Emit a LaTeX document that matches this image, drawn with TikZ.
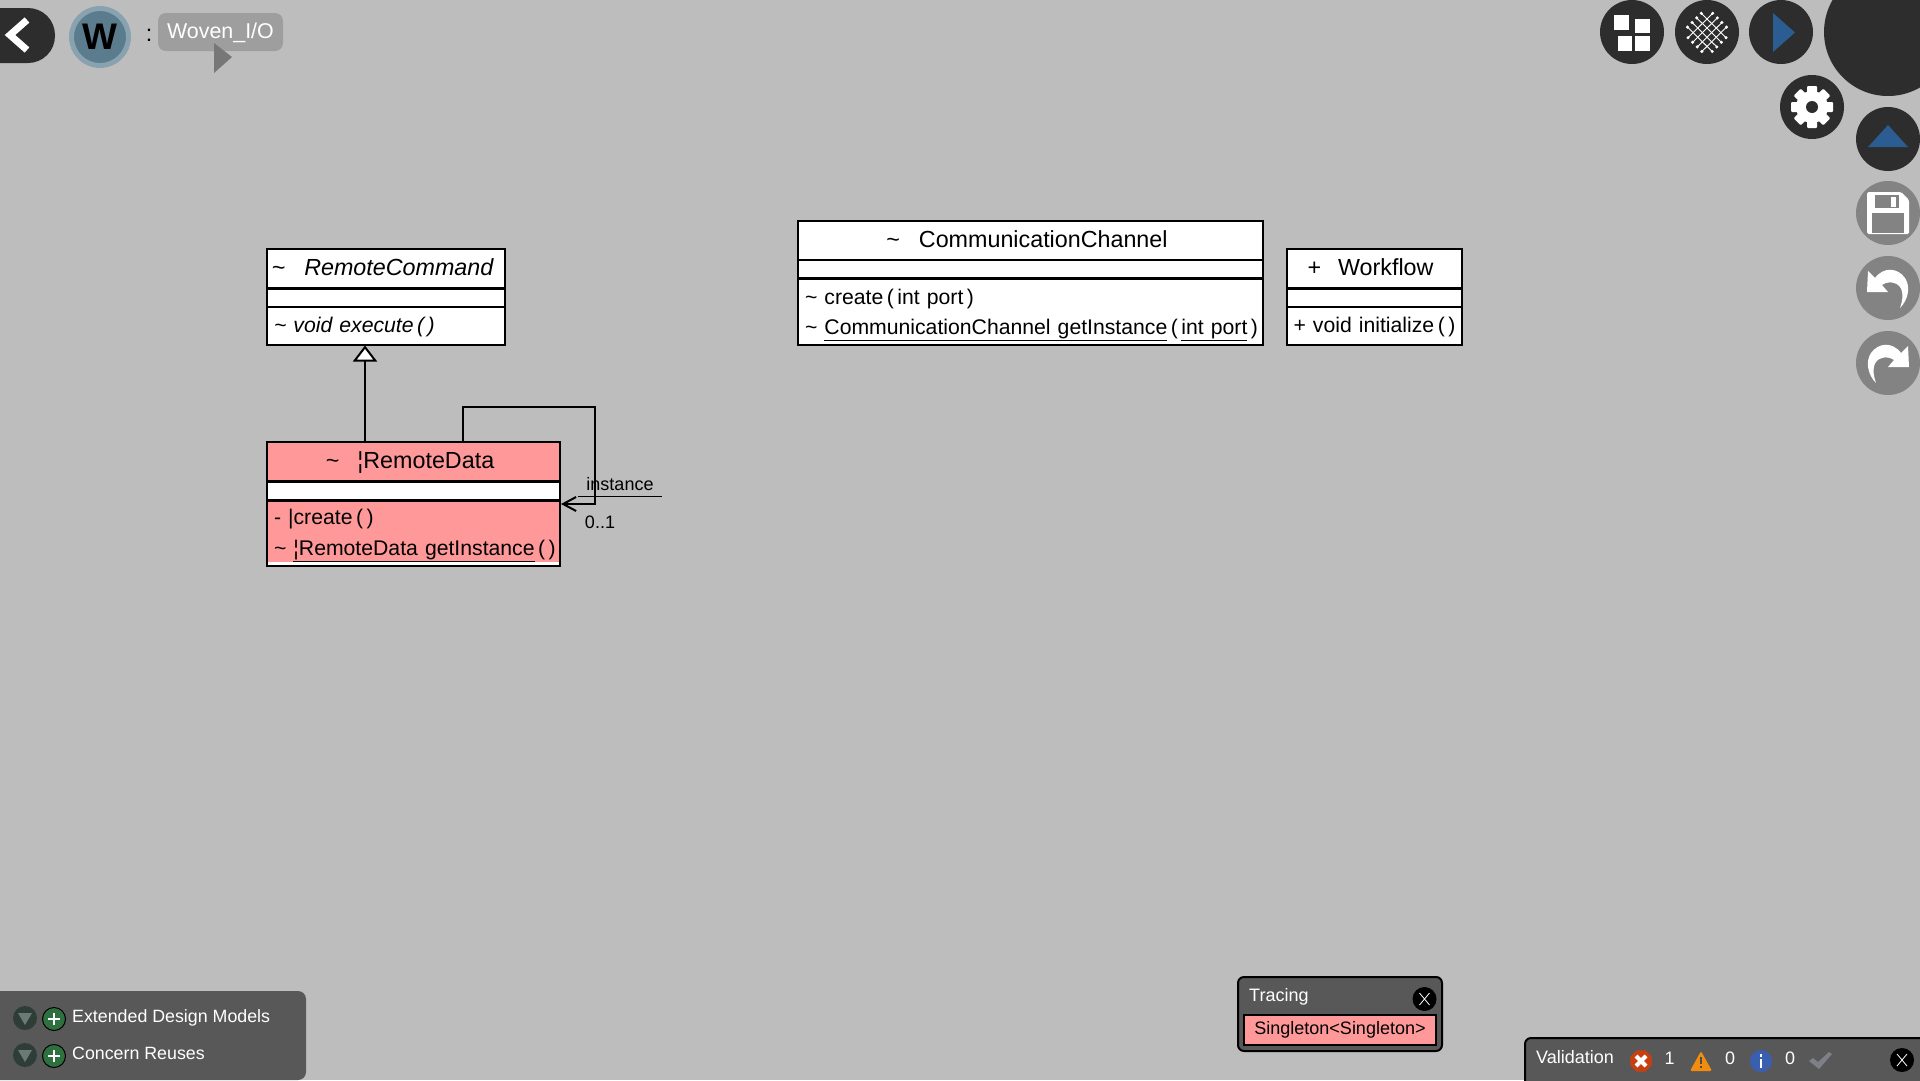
\documentclass[tikz,border=0pt]{standalone}
\usepackage{fontspec}
\setmainfont{Liberation Sans}
\usetikzlibrary{arrows.meta,calc}

\definecolor{canvas_gray}{HTML}{BDBDBD}
\definecolor{btn_dark}{HTML}{2D2D2D}
\definecolor{btn_gray}{HTML}{838383}
\definecolor{panel_gray}{HTML}{585858}
\definecolor{tag_gray}{HTML}{9E9E9E}
\definecolor{tag_arrow}{HTML}{777777}
\definecolor{woven_ring}{HTML}{88A2B0}
\definecolor{woven_fill}{HTML}{5A7C8D}
\definecolor{btn_blue}{HTML}{2B5C92}
\definecolor{trace_pink}{HTML}{FF9999}
\definecolor{plus_green}{HTML}{2F7040}
\definecolor{fold_dark}{HTML}{2E3D38}
\definecolor{fold_tri}{HTML}{6A7A74}
\definecolor{err_red}{HTML}{C8400F}
\definecolor{warn_orange}{HTML}{F28C0F}
\definecolor{info_blue}{HTML}{3A5FB0}
\definecolor{check_gray}{HTML}{7E8088}

\newcommand{\titlefont}{\fontsize{23.3}{28}\selectfont}
\newcommand{\opfont}{\fontsize{21.2}{30.5}\selectfont}
\newcommand{\smallfont}{\fontsize{18}{22}\selectfont}
\newcommand{\tld}{\textasciitilde}
\newcommand{\opstrut}[1]{\rule{0pt}{#1}}
\newcommand{\pgap}{\hspace{3.5pt}}
\newcommand{\turnarrow}{\fill[white] (-20,-17) -- (-21,4) -- (0,4) -- (-6,-3) .. controls (-2,-6) and (3,-6) .. (6,-5) .. controls (14,-3) and (17,6) .. (12,20) .. controls (20,12) and (23,-1) .. (17,-10) .. controls (10,-20) and (-4,-22) .. (-13,-10) -- cycle;}

\tikzset{
	class_part/.style={draw=black,line width=2pt,fill=white,anchor=north west,inner sep=0pt},
	name_part/.style={class_part,font=\titlefont,text height=19pt,text depth=5pt,minimum width=#1,minimum height=39pt},
	attr_part/.style={class_part,minimum width=#1,minimum height=18pt},
	ops_part/.style={class_part,font=\opfont,align=left,inner xsep=7pt,text width=#1,minimum height=38pt},
	assoc_line/.style={draw=black,line width=2pt},
	round_btn/.style={circle,inner sep=0pt,minimum size=64pt,fill=btn_dark},
	gray_btn/.style={round_btn,fill=btn_gray},
	white_text/.style={text=white,font=\smallfont,anchor=west,inner sep=0pt,text height=13pt,text depth=4pt},
	plain_text/.style={font=\smallfont,inner sep=0pt},
	fold_btn/.style={circle,inner sep=0pt,minimum size=24pt,fill=fold_dark},
	plus_btn/.style={circle,inner sep=0pt,minimum size=23pt,fill=plus_green,draw=black,line width=1pt},
	close_btn/.style={circle,inner sep=0pt,minimum size=24pt,fill=black}
}

\begin{document}
\begin{tikzpicture}[x=1pt,y=-1pt]
	\useasboundingbox (0,0) rectangle (1920,1080);
	\fill[canvas_gray] (0,0) rectangle (1920,1080);

	% top left
	\fill[btn_dark,rounded corners=27pt] (-40,8) rectangle (55,63);
	\draw[white,line width=7pt] (27,20) -- (10,35) -- (27,50);
	\node[circle,inner sep=0pt,minimum size=57pt,fill=woven_fill,draw=woven_ring,line width=5pt] (woven_icon) at (100,37) {};
	\node[font=\bfseries\fontsize{37}{37}\selectfont,inner sep=0pt] (woven_w) at (100,37) {W};
	\node[font=\titlefont,inner sep=0pt] (woven_colon) at (149,35) {:};
	\node[fill=tag_gray,rounded corners=8pt,minimum width=125pt,minimum height=38pt,inner sep=0pt,text=white,text height=17pt,text depth=5pt,font=\fontsize{21.4}{26}\selectfont] (woven_tag) at (220.5,32) {Woven\_I/O};
	\fill[tag_arrow] (214,43) -- (232,57) -- (214,73) -- cycle;

	% top right
	\node[round_btn] (grid_btn) at (1632,32) {};
	\node[round_btn] (mesh_btn) at (1707,32) {};
	\node[round_btn] (play_btn) at (1781,32) {};
	\node[round_btn,minimum size=128pt] (big_btn) at (1888,32) {};
	\node[round_btn] (gear_btn) at (1812,107) {};
	\node[round_btn] (up_btn) at (1888,139) {};
	\node[gray_btn] (save_btn) at (1888,213) {};
	\node[gray_btn] (undo_btn) at (1888,288) {};
	\node[gray_btn] (redo_btn) at (1888,363) {};

	\fill[white] (1614,15) rectangle (1629,30);
	\fill[white] (1635,19) rectangle (1650,33);
	\fill[white] (1618,36) rectangle (1632,51);
	\fill[white] (1635,36) rectangle (1650,51);

	\begin{scope}[shift={(1707,32)}]
		\foreach \s in {1,-1}
		\foreach \i in {0,1,2,3}{
			\draw[white,line width=0.9pt] ({\s*(-5.7-4.6*\i)},{-18.7+4.6*\i}) -- ({\s*(19-4.6*\i)},{5.7+4.6*\i});
			\fill[white] ({\s*(-5.7-4.6*\i)},{-18.7+4.6*\i}) circle (1.7pt);
			\fill[white] ({\s*(19-4.6*\i)},{5.7+4.6*\i}) circle (1.7pt);
		}
	\end{scope}

	\fill[btn_blue] (1773,13) -- (1795,32.5) -- (1773,52) -- cycle;
	\fill[btn_blue] (1888,125) -- (1908,147) -- (1868,147) -- cycle;

	\begin{scope}[shift={(1812,107)}]
		\foreach \a in {0,45,...,315}
			\fill[white,rotate=\a,rounded corners=1pt] (-5,-21) rectangle (5,0);
		\fill[white] (0,0) circle (16pt);
		\fill[btn_dark] (0,0) circle (6pt);
	\end{scope}

	\fill[white,rounded corners=1.5pt] (1867,192) -- (1901,192) -- (1909,200) -- (1909,234) -- (1867,234) -- cycle;
	\fill[btn_gray] (1875,195) rectangle (1899,208);
	\fill[white] (1891,197) rectangle (1896,207);
	\fill[btn_gray] (1872,213) rectangle (1904,233);

	\begin{scope}[shift={(1888,288)}]
		\turnarrow
	\end{scope}
	\begin{scope}[shift={(1888,363)},xscale=-1]
		\turnarrow
	\end{scope}

	% RemoteCommand
	\node[name_part=238pt] (rc_name) at (266,248) {\itshape\tld\hspace{19pt}RemoteCommand\kern7pt};
	\node[attr_part=238pt] (rc_attr) at (266,287.5) {};
	\node[ops_part=224pt] (rc_ops) at (266,305.5) {\opstrut{18pt}\mbox{\itshape\tld\ void execute\pgap(\pgap)}};

	% RemoteData
	\node[name_part=293pt,fill=trace_pink] (rd_name) at (266,441) {\tld\hspace{18pt}¦RemoteData\kern7pt};
	\node[attr_part=293pt] (rd_attr) at (266,480.5) {};
	\node[ops_part=279pt,fill=trace_pink,minimum height=65pt,path picture={\fill[white] (path picture bounding box.south west) rectangle ([yshift=4pt]path picture bounding box.south east);}] (rd_ops) at (266,499.5) {\opstrut{20pt}\mbox{-\ |create\pgap(\pgap)}\\\mbox{\tld\ \underline{¦RemoteData getInstance}\pgap(\pgap)}};

	% CommunicationChannel
	\node[name_part=465pt] (cc_name) at (797,220) {\tld\hspace{19pt}CommunicationChannel\kern7pt};
	\node[attr_part=465pt] (cc_attr) at (797,258.5) {};
	\node[ops_part=451pt,minimum height=66pt] (cc_ops) at (797,277.5) {\opstrut{22pt}\mbox{\tld\ create\pgap(\pgap int port\pgap)}\\\mbox{\tld\ \underline{CommunicationChannel getInstance}\pgap(\pgap\underline{int port}\pgap)}};

	% Workflow
	\node[name_part=175pt] (wf_name) at (1285.5,248) {+\hspace{17pt}Workflow\kern7pt};
	\node[attr_part=175pt] (wf_attr) at (1285.5,287.5) {};
	\node[ops_part=161pt] (wf_ops) at (1285.5,305.5) {\opstrut{18pt}\mbox{+ void initialize\pgap(\pgap)}};

	% connectors
	\draw[assoc_line,-{Triangle[open,fill=white,length=16pt,width=24pt]}] ([xshift=99pt]rd_name.north west) -- ([xshift=99pt]rc_ops.south west);

	\coordinate (loop_nw) at (463,407);
	\coordinate (loop_ne) at (595,407);
	\coordinate (loop_se) at (595,504);
	\coordinate (inst_a) at (578,496);
	\coordinate (inst_b) at (662,496);
	\draw[assoc_line,-{Straight Barb[length=13pt,width=14pt]}] (rd_name.north -| loop_nw) -- (loop_nw) -- (loop_ne) -- (loop_se) -- (rd_ops.east |- loop_se);
	\draw[line width=1pt] (inst_a) -- (inst_b);
	\node[plain_text] (inst_label) at (620,484) {instance};
	\node[plain_text] (mult_label) at (600,522) {0..1};

	% bottom left
	\fill[panel_gray,rounded corners=8pt] (-20,991) rectangle (306,1080);
	\foreach \row/\ypos/\txt in {ext/1018/Extended Design Models,reuse/1055/Concern Reuses}{
		\node[fold_btn] (fold_\row) at (25,\ypos) {};
		\fill[fold_tri] ($(fold_\row)+(-7,-5)$) -- ($(fold_\row)+(7,-5)$) -- ($(fold_\row)+(0,7)$) -- cycle;
		\node[plus_btn] (plus_\row) at (54,\ypos+1) {};
		\draw[white,line width=1.2pt] ($(plus_\row)+(-6,0)$) -- ($(plus_\row)+(6,0)$);
		\draw[white,line width=1.2pt] ($(plus_\row)+(0,-6)$) -- ($(plus_\row)+(0,6)$);
		\node[white_text,font=\fontsize{17.8}{22}\selectfont] (label_\row) at (72,\ypos-0.5) {\txt};
	}

	% tracing
	\fill[panel_gray,draw=black,line width=2pt,rounded corners=6pt] (1238,977) rectangle (1442,1051);
	\node[white_text] (trace_title) at (1249,997) {Tracing};
	\node[close_btn] (trace_close) at (1424.5,999) {};
	\draw[white,line width=0.8pt] ($(trace_close)+(-5,-6)$) -- ($(trace_close)+(5,6)$);
	\draw[white,line width=0.8pt] ($(trace_close)+(5,-6)$) -- ($(trace_close)+(-5,6)$);
	\node[draw=black,line width=1.5pt,fill=trace_pink,font=\smallfont,minimum width=192pt,minimum height=30pt,inner sep=0pt] (trace_item) at (1340,1030) {Singleton<Singleton>};

	% validation
	\fill[panel_gray,draw=black,line width=2pt,rounded corners=6pt] (1525,1038) rectangle (1940,1100);
	\node[white_text] (valid_title) at (1536,1059) {Validation};
	\fill[err_red] (1641,1061) +(22.5:11.5pt) -- +(67.5:11.5pt) -- +(112.5:11.5pt) -- +(157.5:11.5pt) -- +(202.5:11.5pt) -- +(247.5:11.5pt) -- +(292.5:11.5pt) -- +(337.5:11.5pt) -- cycle;
	\draw[white,line width=4pt] (1636,1056) -- (1646,1066) (1646,1056) -- (1636,1066);
	\node[white_text,anchor=center] (valid_err) at (1669.5,1060) {1};
	\fill[warn_orange,rounded corners=1.5pt] (1701,1051) -- (1712,1071) -- (1690,1071) -- cycle;
	\draw[black!70,line width=2pt] (1701,1057) -- (1701,1064) (1701,1066) -- (1701,1068);
	\node[white_text,anchor=center] (valid_warn) at (1730,1060) {0};
	\fill[info_blue] (1761,1061) circle (11pt);
	\draw[white,line width=2.5pt] (1761,1059) -- (1761,1068) (1761,1054) -- (1761,1056.5);
	\node[white_text,anchor=center] (valid_info) at (1790,1060) {0};
	\fill[check_gray] (1809,1061) -- (1813,1058) -- (1818,1062) -- (1829,1052) -- (1832,1054) -- (1819,1069) -- cycle;
	\node[close_btn] (valid_close) at (1902,1060) {};
	\draw[white,line width=0.8pt] ($(valid_close)+(-5,-6)$) -- ($(valid_close)+(5,6)$);
	\draw[white,line width=0.8pt] ($(valid_close)+(5,-6)$) -- ($(valid_close)+(-5,6)$);
\end{tikzpicture}
\end{document}
